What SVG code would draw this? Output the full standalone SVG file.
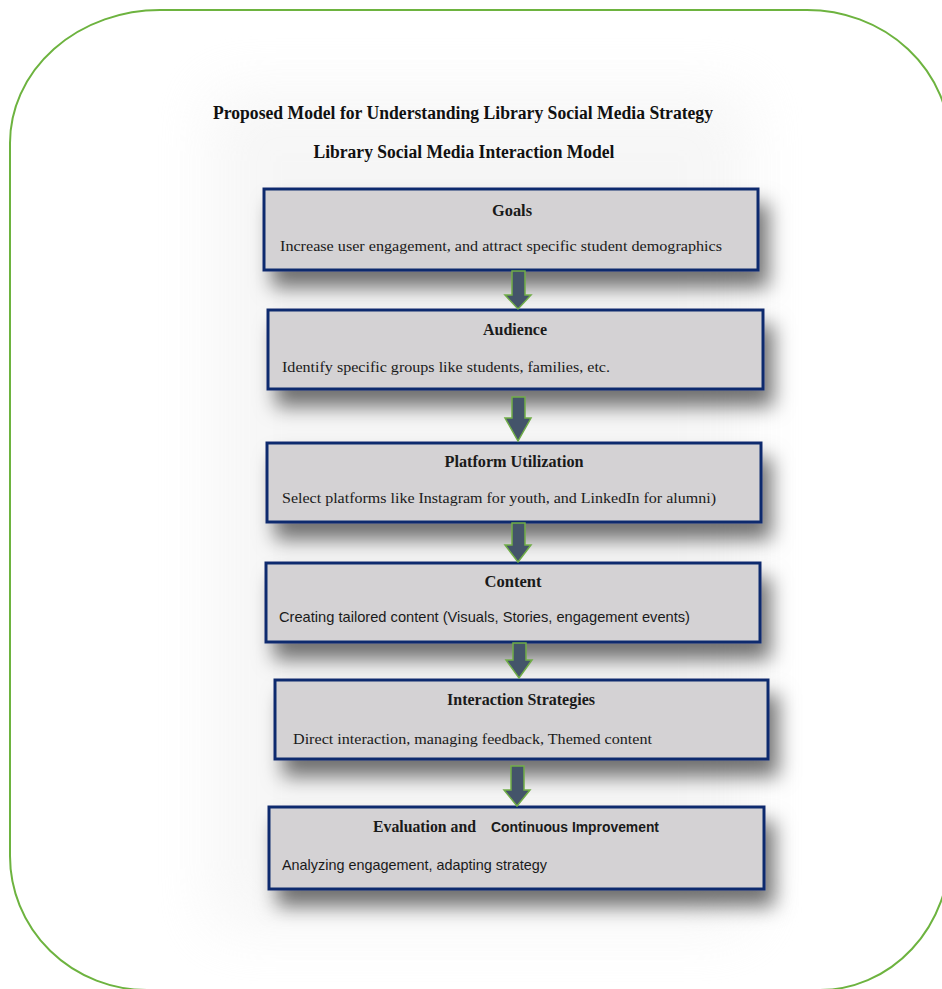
<svg xmlns="http://www.w3.org/2000/svg" width="942" height="989" viewBox="0 0 942 989">
<defs>
<filter id="sh" x="-20%" y="-40%" width="150%" height="200%">
<feGaussianBlur in="SourceAlpha" stdDeviation="10"/>
<feOffset dx="9" dy="16" result="b"/>
<feFlood flood-color="#000" flood-opacity="0.55"/>
<feComposite in2="b" operator="in"/>
<feMerge><feMergeNode/><feMergeNode in="SourceGraphic"/></feMerge>
</filter>
<filter id="halo" x="-50%" y="-50%" width="200%" height="200%">
<feGaussianBlur stdDeviation="30"/>
</filter>
<style>
.box{fill:#D4D2D4;stroke:#0F2C6E;stroke-width:3}
.t{font-family:"Liberation Serif",serif;font-weight:bold;font-size:16px;fill:#1a1a1a;text-anchor:middle}
.b{font-family:"Liberation Serif",serif;font-size:15.5px;fill:#1a1a1a}
.s{font-family:"Liberation Sans",sans-serif;font-size:14.5px;fill:#1a1a1a}
.h{font-family:"Liberation Serif",serif;font-weight:bold;font-size:18px;fill:#111;text-anchor:middle}
.arr{fill:#44546A;stroke:#70AD47;stroke-width:1.5}
</style>
</defs>
<rect width="942" height="989" fill="#fff"/>
<path d="M10,143 A150,133 0 0 1 160,10 L807,10 A143,134 0 0 1 950,144 L950,850 A130,140 0 0 1 820,990 L147,990 A137,134 0 0 1 10,856 Z" fill="none" stroke="#6DB33F" stroke-width="2"/>
<rect x="210" y="90" width="540" height="840" fill="#ececec" opacity="0.45" filter="url(#halo)"/>
<g id="title">
<text class="h" x="463" y="119" textLength="500" lengthAdjust="spacingAndGlyphs">Proposed Model for Understanding Library Social Media Strategy</text>
<text class="h" x="464" y="158" textLength="301" lengthAdjust="spacingAndGlyphs">Library Social Media Interaction Model</text>
</g>
<g id="goals">
<rect class="box" x="264" y="189" width="494" height="81" filter="url(#sh)"/>
<text class="t" x="512" y="216" textLength="40" lengthAdjust="spacingAndGlyphs">Goals</text>
<text class="b" x="280" y="251" textLength="442" lengthAdjust="spacingAndGlyphs">Increase user engagement, and attract specific student demographics</text>
</g>
<g id="audience">
<rect class="box" x="268" y="310" width="495" height="79" filter="url(#sh)"/>
<text class="t" x="515" y="335" textLength="64" lengthAdjust="spacingAndGlyphs">Audience</text>
<text class="b" x="282" y="372" textLength="328" lengthAdjust="spacingAndGlyphs">Identify specific groups like students, families, etc.</text>
</g>
<g id="platform">
<rect class="box" x="267" y="443" width="494" height="79" filter="url(#sh)"/>
<text class="t" x="514" y="467" textLength="139" lengthAdjust="spacingAndGlyphs">Platform Utilization</text>
<text class="b" x="282" y="503" textLength="434" lengthAdjust="spacingAndGlyphs">Select platforms like Instagram for youth, and LinkedIn for alumni)</text>
</g>
<g id="content">
<rect class="box" x="266" y="563" width="494" height="79" filter="url(#sh)"/>
<text class="t" x="513" y="587" textLength="57" lengthAdjust="spacingAndGlyphs">Content</text>
<text class="s" x="279" y="622" textLength="411" lengthAdjust="spacingAndGlyphs">Creating tailored content (Visuals, Stories, engagement events)</text>
</g>
<g id="interaction">
<rect class="box" x="275" y="680" width="493" height="79" filter="url(#sh)"/>
<text class="t" x="521" y="705" textLength="148" lengthAdjust="spacingAndGlyphs">Interaction Strategies</text>
<text class="b" x="293" y="744" textLength="359" lengthAdjust="spacingAndGlyphs">Direct interaction, managing feedback, Themed content</text>
</g>
<g id="evaluation">
<rect class="box" x="269" y="807" width="495" height="82" filter="url(#sh)"/>
<text class="t" x="373" y="832" textLength="103" lengthAdjust="spacingAndGlyphs" style="text-anchor:start">Evaluation and</text>
<text class="s" x="491" y="832" textLength="168" lengthAdjust="spacingAndGlyphs" style="font-weight:bold">Continuous Improvement</text>
<text class="s" x="282" y="870" textLength="265" lengthAdjust="spacingAndGlyphs">Analyzing engagement, adapting strategy</text>
</g>
<g id="connectors">
<polygon class="arr" points="512,271 525,271 525,295 531,295 518,309 505,295 512,295"/>
<polygon class="arr" points="512,397 525,397 525,418 531,418 518,441 505,418 512,418"/>
<polygon class="arr" points="512,523 525,523 525,545 531,545 518,562 505,545 512,545"/>
<polygon class="arr" points="513,643 526,643 526,660 532,660 519,678 506,660 513,660"/>
<polygon class="arr" points="511,766 524,766 524,790 530,790 517,806 504,790 511,790"/>
</g>
</svg>
